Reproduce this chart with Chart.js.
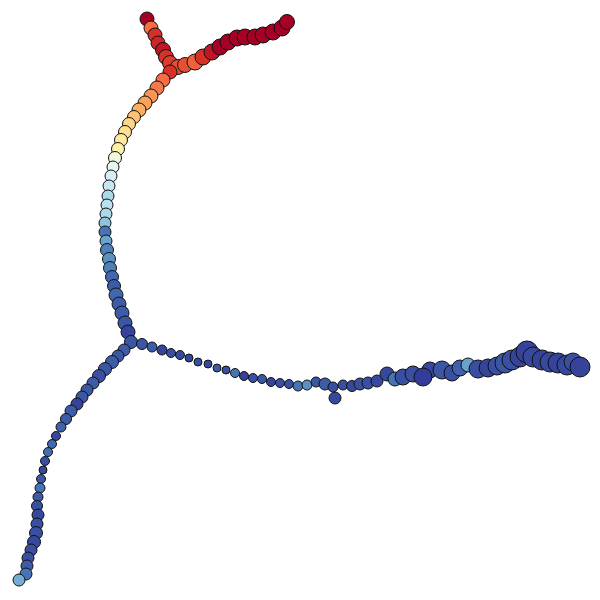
<!DOCTYPE html>
<html><head><meta charset="utf-8">
<script src="https://cdn.jsdelivr.net/npm/chart.js@4.4.1/dist/chart.umd.min.js"></script>
<style>html,body{margin:0;padding:0;background:#fff}#c{display:block}</style>
</head><body>
<canvas id="c" width="600" height="600"></canvas>
<script>
// Point positions (embedding coordinates, y downward), sizes and colour values (0 = blue .. 1 = red, RdYlBu_r)
const xs = [147,151,155,158,163,166,170,
 178,185,195,203,212,220,228,237,245,255,263,273,282,287,
 170,163,157,151,145,139,134,129,125,121,118,115,113,111,109,108,107,106,105,105,106,107,109,110,112,114,116,119,122,125,128,131,
 142,152,162,171,180,189,198,208,217,226,235,244,253,262,271,280,289,298,307,316,325,335,333,343,352,360,368,377,387,395,403,413,430,423,442,452,460,468,478,488,497,505,512,520,527,533,542,550,558,567,573,580,
 124,118,112,105,99,93,87,82,77,71,66,61,56,52,48,45,43,41,40,38,37,38,37,36,34,31,28,27,26,19];
const ys = [19,28,35,43,50,57,63,
 67,65,62,57,52,47,42,38,37,37,35,32,28,22,
 72,80,88,96,103,110,117,124,132,140,149,158,167,176,186,196,205,214,223,232,241,250,259,268,277,286,295,304,313,323,332,342,
 344,347,350,353,355,358,362,364,368,370,373,376,378,379,382,383,384,386,385,382,384,398,387,385,386,384,383,381,374,379,377,374,370,377,370,373,368,365,369,368,366,363,360,357,352,357,360,362,363,365,362,367,
 350,356,362,369,376,383,390,397,404,411,419,427,436,444,452,461,470,479,488,497,506,515,524,533,542,550,558,566,574,580];
const sizes = [7,7,7,7,7.5,7.5,7.5,
 7.5,7.5,8,8,8,8,8,8,8,8,8,8,8,7.5,
 7,7,7,7,7,7,6.5,6.5,6.5,6.5,6.5,6.5,6,6,6,6,6,6,6,6,6,6.5,6.5,6.5,6.5,6.5,7,7,7,7,7,6.5,
 5.5,5,5,4.5,4.5,4,4,4,4,4,4.5,4.5,4.5,4.5,4.5,4.5,4.5,5,5,5,6,6,5,5,5.5,6,6,6,7,7,8,8,8,9,9,8,8,7,9,9,9,10,10,10,11,10,10,10,10,10,9,10,
 6,6,6.5,6.5,6.5,6,6,6,6,6,5.5,5,4.5,4.5,4.5,4.5,4,4.5,5,5,5.5,6,6,6.5,6.5,6,6,6,6,6];
const values = [1.0,0.8,0.9,0.92,0.95,0.9,0.88,
 0.85,0.85,0.82,0.9,0.95,1,1,1,1,1,1,1,1,1,
 0.9,0.8,0.78,0.74,0.72,0.7,0.66,0.62,0.6,0.57,0.55,0.45,0.42,0.38,0.35,0.3,0.33,0.3,0.25,0.1,0.18,0.12,0.15,0.12,0.08,0.06,0.08,0.06,0.06,0.05,0.02,0.05,
 0.05,0.06,0.02,0.04,0.03,0.02,0.04,0.03,0.06,0.04,0.1,0.02,0.04,0.05,0.02,0.04,0.04,0.1,0.15,0.05,0.06,0.03,0.04,0.04,0.03,0.04,0.04,0.03,0.03,0.1,0.04,0.04,0.03,0.01,0.05,0.04,0.07,0.18,0.04,0.02,0.04,0.05,0.04,0.02,0.02,0.03,0.02,0.03,0.02,0.03,0.04,0.02,
 0.06,0.05,0.06,0.05,0.04,0.06,0.05,0.05,0.02,0.06,0.06,0.07,0.03,0.08,0.09,0.04,0.03,0.05,0.1,0.06,0.04,0.03,0.04,0.04,0.03,0.04,0.04,0.06,0.1,0.2];

const cmap = ['#313695','#4575b4','#74add1','#abd9e9','#e0f3f8','#ffffbf','#fee090','#fdae61','#f46d43','#d73027','#a50026'];
function hex(h){return [parseInt(h.slice(1,3),16),parseInt(h.slice(3,5),16),parseInt(h.slice(5,7),16)];}
function colorAt(t){
  t=Math.max(0,Math.min(1,t));
  const p=t*(cmap.length-1), i=Math.min(Math.floor(p),cmap.length-2), f=p-i;
  const a=hex(cmap[i]), b=hex(cmap[i+1]);
  return 'rgb('+a.map((v,k)=>Math.round(v+(b[k]-v)*f)).join(',')+')';
}
const pts = xs.map((x,i)=>({x:x,y:ys[i],r:sizes[i]}));
new Chart(document.getElementById('c'),{
  type:'bubble',
  data:{datasets:[{data:pts,backgroundColor:values.map(colorAt),borderColor:'#111',borderWidth:1,clip:false}]},
  options:{
    responsive:false,animation:false,devicePixelRatio:1,
    layout:{padding:0,autoPadding:false},
    plugins:{legend:{display:false},tooltip:{enabled:false}},
    scales:{
      x:{type:'linear',min:0,max:600,display:false},
      y:{type:'linear',min:0,max:600,reverse:true,display:false}
    }
  }
});
</script>
</body></html>
